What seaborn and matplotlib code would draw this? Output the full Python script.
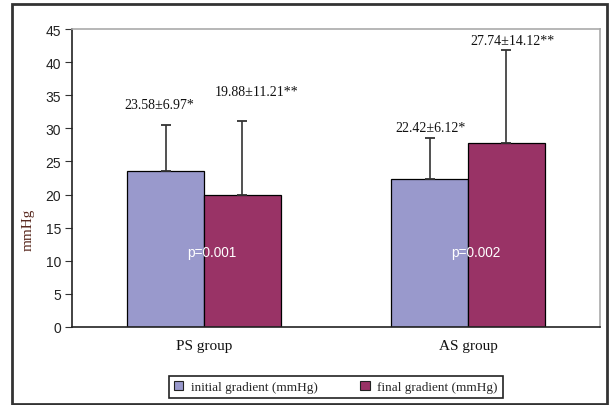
import matplotlib
matplotlib.use("Agg")
import matplotlib.pyplot as plt
import seaborn as sns
import pandas as pd
from matplotlib.patches import Rectangle
from matplotlib.container import BarContainer

groups = ["PS group", "AS group"]
series = ["initial gradient (mmHg)", "final gradient (mmHg)"]
initial_mean = [23.58, 22.42]
initial_sd = [6.97, 6.12]
final_mean = [19.88, 27.74]
final_sd = [11.21, 14.12]
labels_initial = ["23.58±6.97*", "22.42±6.12*"]
labels_final = ["19.88±11.21**", "27.74±14.12**"]
p_values = ["p=0.001", "p=0.002"]
yticks = [0, 5, 10, 15, 20, 25, 30, 35, 40, 45]

df = pd.DataFrame({
    "group": groups * 2,
    "series": [series[0]] * 2 + [series[1]] * 2,
    "value": initial_mean + final_mean,
})

sns.set_style("white")
fig = plt.figure(figsize=(6.11, 4.06), dpi=100)
ax = fig.add_axes([72 / 611, 1 - 328 / 406, (600 - 72) / 611, (328 - 30) / 406])

sns.barplot(data=df, x="group", y="value", hue="series", order=groups, hue_order=series,
            palette=["#9999CC", "#993366"], edgecolor="black", linewidth=0.9,
            width=0.58, errorbar=None, saturation=1, ax=ax, legend=True)

bar_conts = [c for c in ax.containers if isinstance(c, BarContainer)]
sds = [initial_sd, final_sd]
texts = [labels_initial, labels_final]
text_y = [[33.6, 30.2], [35.6, 43.2]]
text_dx = [[-0.023, 0.004], [0.053, 0.023]]
for k, cont in enumerate(bar_conts):
    for i, bar in enumerate(list(cont.patches)):
        cx = bar.get_x() + bar.get_width() / 2
        h = bar.get_height()
        ax.errorbar(cx, h, yerr=[[0], [sds[k][i]]], fmt="none", ecolor="#333333",
                    elinewidth=1.2, capsize=3.5, capthick=1.3)
        ax.text(cx + text_dx[k][i], text_y[k][i], texts[k][i], ha="center", va="center",
                fontsize=10, family="Liberation Serif", color="#111111")

for i, p in enumerate(p_values):
    ax.text(i + 0.03, 11.3, p, ha="center", va="center", color="white",
            fontsize=9.8, family="Liberation Sans")

ax.set_ylim(0, 45)
ax.set_xlim(-0.5, 1.5)
ax.set_yticks(yticks)
ax.set_yticklabels([str(t) for t in yticks], family="Liberation Sans", fontsize=10, color="#222222")
ax.set_xticks([-0.5, 0.5, 1.5])
ax.set_xticklabels(["", "", ""])
ax.set_xticks([0, 1], minor=True)
ax.set_xticklabels(groups, minor=True, family="Liberation Serif", fontsize=11, color="#111111")
ax.tick_params(axis="x", which="minor", length=0, pad=9)
ax.tick_params(axis="x", which="major", length=3, direction="out", color="#333333")
ax.tick_params(axis="y", length=5, direction="out", color="#333333", pad=3, left=True)
ax.set_xlabel("")
ax.set_ylabel("mmHg", family="Liberation Serif", fontsize=11, color="#5a2a20")
ax.yaxis.set_label_coords(-0.07, 0.33)

for s in ["left", "bottom"]:
    ax.spines[s].set_color("#222222")
    ax.spines[s].set_linewidth(1.2)
for s in ["top", "right"]:
    ax.spines[s].set_color("#aaaaaa")
    ax.spines[s].set_linewidth(1.2)

handles, lbls = ax.get_legend_handles_labels()
if ax.get_legend() is not None:
    ax.get_legend().remove()
leg = fig.legend(handles, lbls, loc="center", bbox_to_anchor=(336 / 611, 1 - 388 / 406), ncol=2,
                 frameon=True, fancybox=False, edgecolor="#222222", framealpha=1,
                 prop={"family": "Liberation Serif", "size": 9.5},
                 handlelength=0.7, handleheight=0.7, handletextpad=0.6, columnspacing=3.2,
                 borderpad=0.35, borderaxespad=0)
leg.get_frame().set_linewidth(1.2)
for h in leg.legend_handles:
    h.set_edgecolor("#222222")
    h.set_linewidth(0.8)

fig.patches.append(Rectangle((12 / 611, 1 - 405 / 406), (607 - 12) / 611, 400 / 406,
                             transform=fig.transFigure, fill=False, edgecolor="#333333",
                             linewidth=2))

fig.savefig("out.png", dpi=100)
